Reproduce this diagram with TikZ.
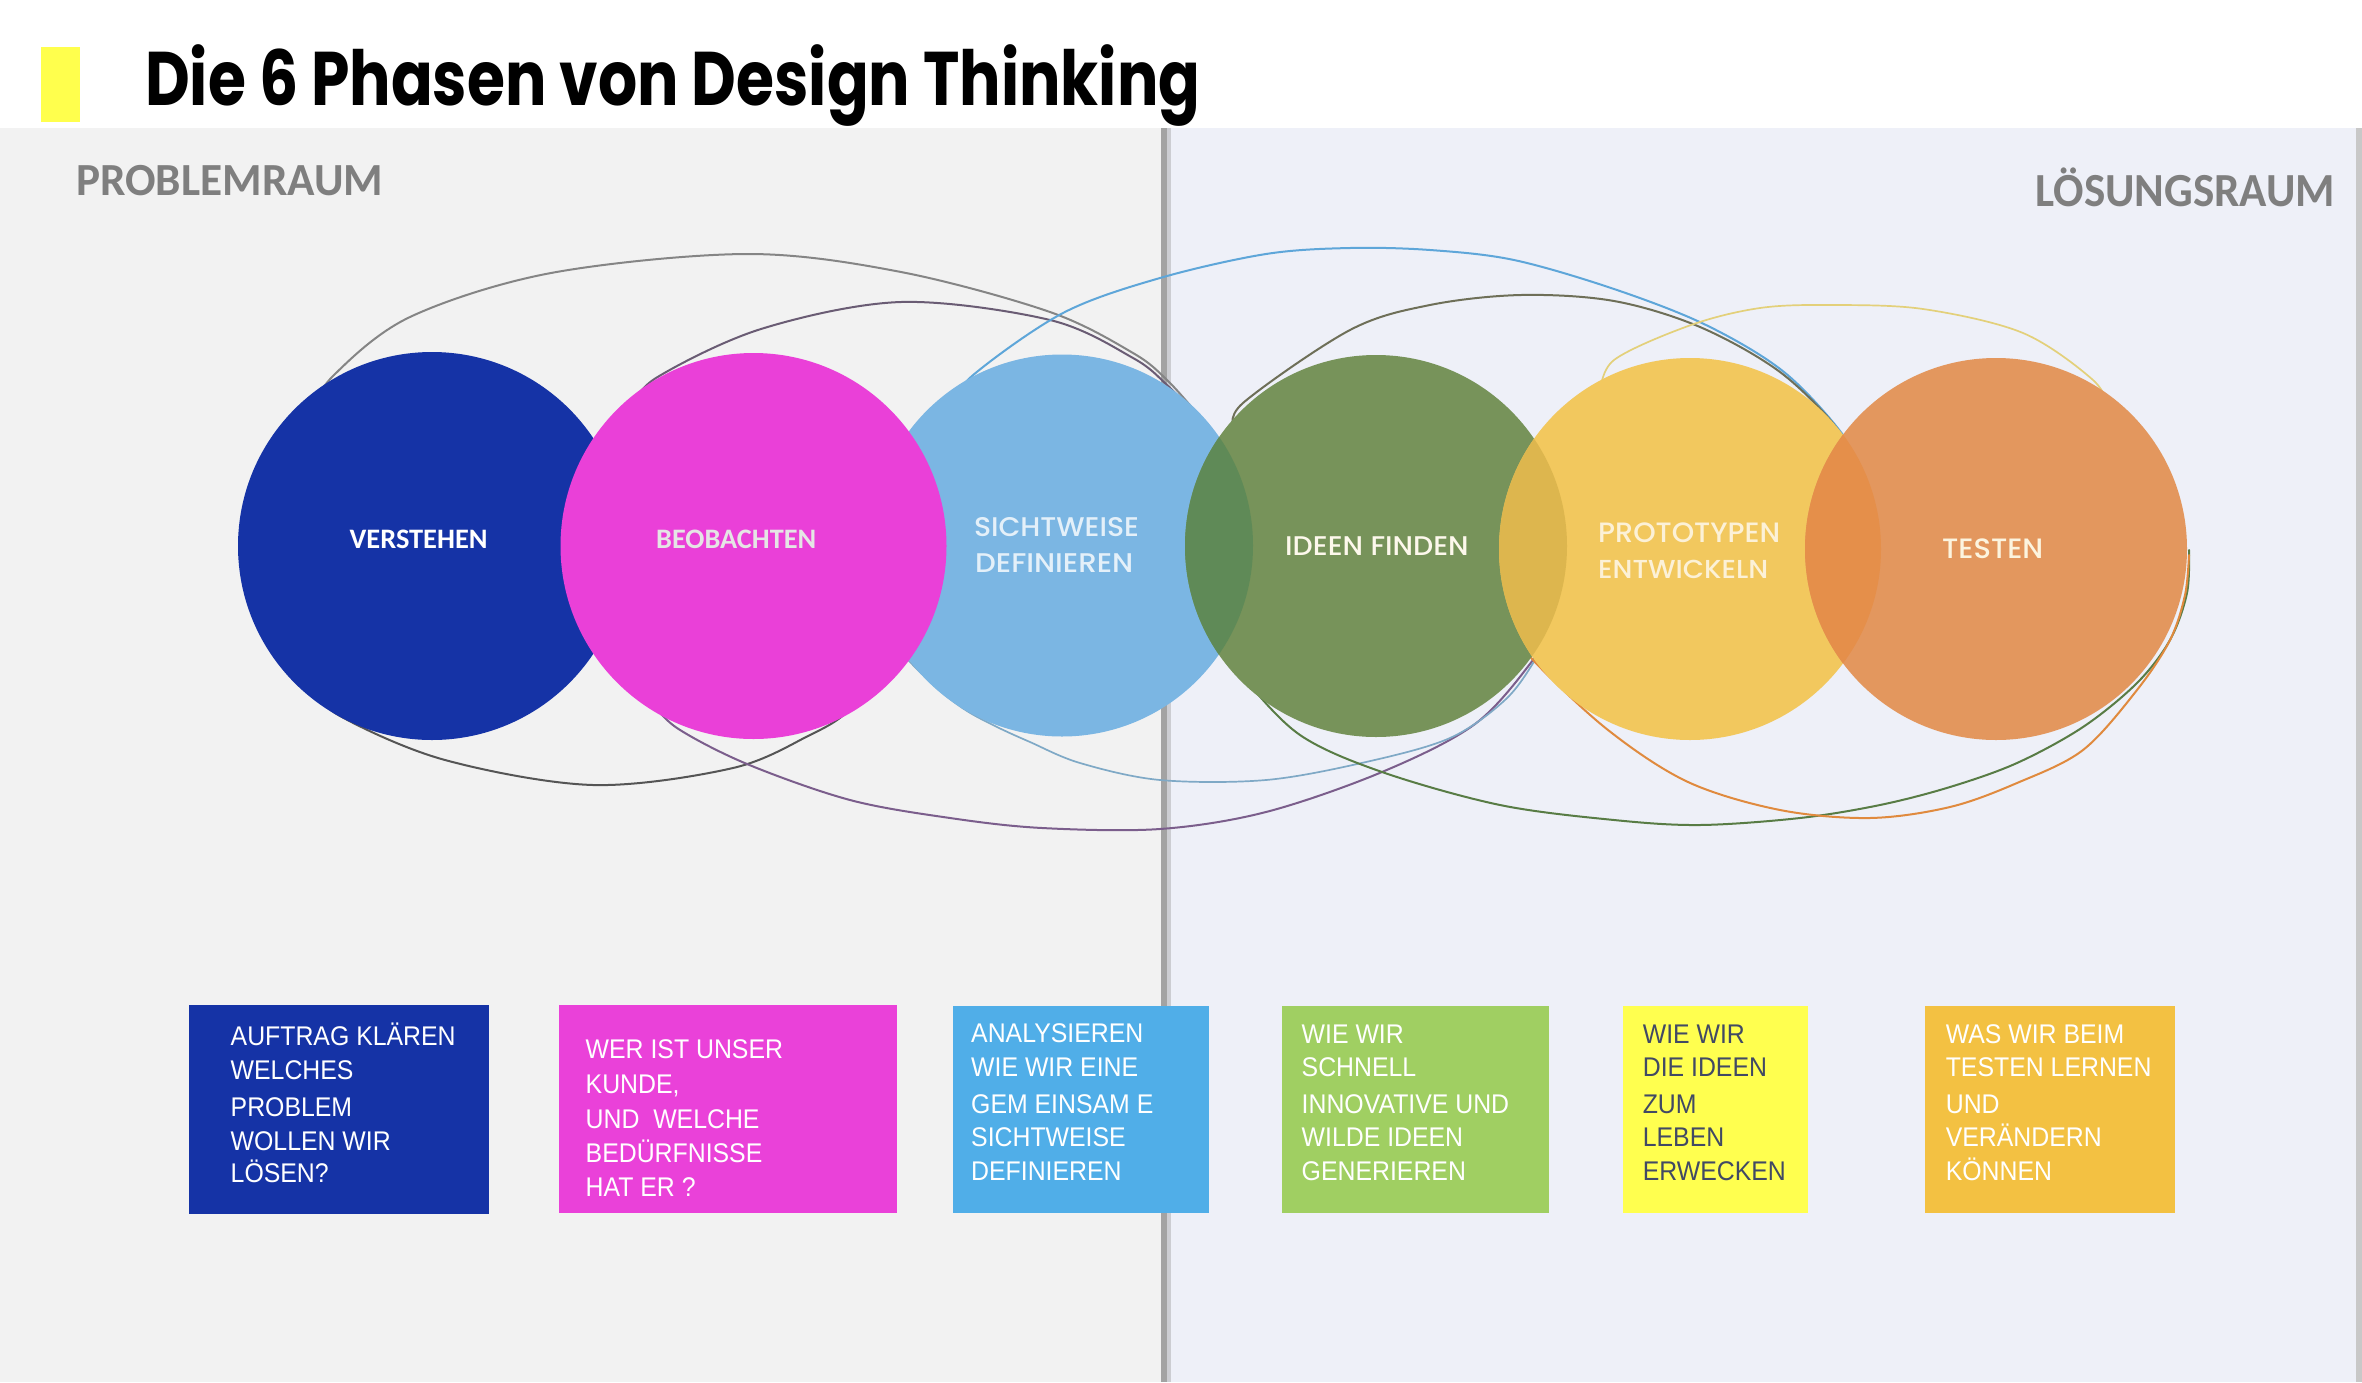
\documentclass[tikz,border=0pt]{standalone}
\usepackage{fontspec}
\usepackage{graphicx}
\setmainfont{Liberation Sans}
\newfontfamily\carlito{Carlito}
\newfontfamily\popfont{Poppins}
\newfontfamily\popmed{Poppins Medium}
\newcommand\fs[1]{\fontsize{#1}{#1}\selectfont}
\newcommand\fitw[2]{\resizebox{#1}{\height}{#2}}
\definecolor{panelL}{HTML}{F2F2F2}
\definecolor{panelR}{HTML}{EEF0F8}
\definecolor{divc}{HTML}{A3A3A3}
\definecolor{titlebar}{HTML}{FFFF4D}
\definecolor{cdb}{HTML}{1533A6}
\definecolor{cpk}{HTML}{EA40D8}
\definecolor{clb}{HTML}{7BB6E3}
\definecolor{cgr}{HTML}{77935A}
\definecolor{cye}{HTML}{F2C85E}
\definecolor{cor}{HTML}{E3975E}
\definecolor{lensgb}{HTML}{5F8A57}
\definecolor{lensgy}{HTML}{DDB64E}
\definecolor{lensyo}{HTML}{E58F4A}
\definecolor{bdb}{HTML}{1533A6}
\definecolor{bpk}{HTML}{EA41D9}
\definecolor{blb}{HTML}{50AEE8}
\definecolor{bgr}{HTML}{A0CF62}
\definecolor{bye}{HTML}{FFFF4F}
\definecolor{bor}{HTML}{F3C142}
\definecolor{ytext}{HTML}{414964}
\definecolor{lgA}{HTML}{858585}
\definecolor{lgB}{HTML}{555555}
\definecolor{ltwoT}{HTML}{6A5C74}
\definecolor{ltwoB}{HTML}{7B5E8C}
\definecolor{lthrT}{HTML}{5EA6D9}
\definecolor{lthrB}{HTML}{7FA9C6}
\definecolor{lfouT}{HTML}{6E6F58}
\definecolor{lfouB}{HTML}{587C45}
\definecolor{lfivT}{HTML}{E3D07A}
\definecolor{lfivB}{HTML}{E08A3E}
\definecolor{capgray}{HTML}{7F7F7F}
\newcommand\bl[4]{\node[lbl,text=#1] (#2) at #3 {\scalebox{0.92}[1]{\fs{27}#4}};}
\begin{document}
\begin{tikzpicture}[x=1pt,y=-1pt,
  lbl/.style={inner sep=0pt, anchor=base west},
  loopline/.style={line width=2pt, line cap=round},
  smoothplot/.style={smooth, tension=0.55}]
\useasboundingbox (0,0) rectangle (2362,1382);
\fill[white] (0,0) rectangle (2362,1382);
% panels
\fill[panelL] (0,128) rectangle (1164,1382);
\fill[panelR] (1164,128) rectangle (2357,1382);
\fill[divc] (1161,128) rectangle (1167,1382);
\fill[divc!45!panelR] (1167,128) rectangle (1171,1382);
\fill[divc!60!white] (2356,128) rectangle (2362,1382);
% yellow bar and title
\fill[fill=titlebar] (41,47) rectangle (80,122);
\node[lbl,text=black] (title) at (145,105) {\fitw{1055pt}{\fs{76}\popfont\bfseries Die 6 Phasen von Design Thinking}};
% space labels
\node[lbl,text=capgray] (problemraum) at (76,195) {\fitw{307pt}{\fs{46}\carlito\bfseries PROBLEMRAUM}};
\node[lbl,text=capgray] (loesungsraum) at (2035,206) {\fitw{300pt}{\fs{47.5}\carlito\bfseries LÖSUNGSRAUM}};
% loops (under circles)
\draw[loopline,lgA] plot[smoothplot] coordinates {(305,420) (333,376) (410,317) (551,273) (747,254) (901,272) (1050,312) (1133,353) (1167,380) (1200,417) (1220,442) (1228,475)};
\draw[loopline,lgB] plot[smoothplot] coordinates {(300,680) (340,716) (445,760) (593,785) (733,768) (810,735) (846,713) (872,680)};
\draw[loopline,ltwoT] plot[smoothplot] coordinates {(630,410) (656,378) (761,329) (901,302) (1050,320) (1133,358) (1167,385) (1200,420) (1220,442) (1228,475)};
\draw[loopline,ltwoB] plot[smoothplot] coordinates {(650,700) (677,728) (747,764) (850,800) (950,818) (1042,828) (1160,829) (1266,812) (1382,772) (1475,724) (1533,660) (1552,625)};
\draw[loopline,lthrT] plot[smoothplot] coordinates {(950,410) (972,376) (1063,313) (1160,278) (1266,254) (1350,248) (1430,250) (1514,260) (1614,289) (1706,325) (1784,372) (1843,435) (1855,470)};
\draw[loopline,lthrB,line width=1.7pt] plot[smoothplot] coordinates {(895,645) (910,662) (940,691) (967,711) (997,727) (1030,742) (1080,763) (1160,780) (1266,780) (1366,762) (1450,738) (1505,700) (1535,660) (1552,625)};
\draw[loopline,lfouT] plot[smoothplot] coordinates {(1235,430) (1243,403) (1350,330) (1430,305) (1521,295) (1614,301) (1700,327) (1780,372) (1838,430) (1850,470)};
\draw[loopline,lfouB] plot[smoothplot] coordinates {(1225,650) (1243,677) (1300,735) (1382,772) (1500,805) (1614,820) (1700,825) (1800,818) (1880,805) (1950,787) (2017,763) (2083,727) (2137,683) (2170,640) (2187,593) (2189,550)};
\draw[loopline,lfivT,line width=1.7pt] plot[smoothplot] coordinates {(1600,395) (1614,360) (1691,325) (1760,308) (1830,305) (1923,309) (2023,333) (2093,380) (2110,410)};
\draw[loopline,lfivB] plot[smoothplot] coordinates {(1510,625) (1533,660) (1608,730) (1688,782) (1780,810) (1870,818) (1950,807) (2017,783) (2083,750) (2137,690) (2170,640) (2185,595) (2189,555)};
% circles
\fill[cdb] (432,546) circle[radius=194pt];
\fill[clb] (1062,545.5) circle[radius=191pt];
\fill[cpk] (753.5,546) circle[radius=193pt];
\fill[cgr] (1376,546) circle[radius=191pt];
\fill[cye] (1690,549) circle[radius=191pt];
\fill[cor] (1996,549) circle[radius=191pt];
\begin{scope}
  \clip (1062,545.5) circle[radius=191pt];
  \fill[lensgb] (1376,546) circle[radius=191pt];
\end{scope}
\begin{scope}
  \clip (1376,546) circle[radius=191pt];
  \fill[lensgy] (1690,549) circle[radius=191pt];
\end{scope}
\begin{scope}
  \clip (1690,549) circle[radius=191pt];
  \fill[lensyo] (1996,549) circle[radius=191pt];
\end{scope}
% circle labels
\node[lbl,text=white] (verstehen) at (349.4,548.3) {\fitw{138pt}{\fs{28.2}\carlito\bfseries VERSTEHEN}};
\node[lbl,text=white!90!black] (beobachten) at (656,548.3) {\fitw{160pt}{\fs{28.2}\carlito\bfseries BEOBACHTEN}};
\node[lbl,text=white!80!clb] (sichtweise) at (973.8,536.4) {\fitw{165pt}{\fs{27}\popmed SICHTWEISE}};
\node[lbl,text=white!80!clb] (definieren) at (975,572.4) {\fitw{158pt}{\fs{27}\popmed DEFINIEREN}};
\node[lbl,text=white!88!cye] (ideenfinden) at (1285,555) {\fitw{183.5pt}{\fs{27}\popmed IDEEN FINDEN}};
\node[lbl,text=white!75!cye] (prototypen) at (1598,542.4) {\fitw{182pt}{\fs{28}\popmed PROTOTYPEN}};
\node[lbl,text=white!75!cye] (entwickeln) at (1598,578) {\fitw{170pt}{\fs{26}\popmed ENTWICKELN}};
\node[lbl,text=white!80!cye] (testen) at (1942,558) {\fitw{101pt}{\fs{28}\popmed TESTEN}};
% boxes
\fill[bdb] (189,1005) rectangle (489,1214);
\fill[bpk] (559,1005) rectangle (897,1213);
\fill[blb] (953,1006) rectangle (1209,1213);
\fill[bgr] (1282,1006) rectangle (1549,1213);
\fill[bye] (1623,1006) rectangle (1808,1213);
\fill[bor] (1925,1006) rectangle (2175,1213);
% box texts
\bl{white}{ba1}{(230.5,1045.7)}{AUFTRAG KLÄREN}
\bl{white}{ba2}{(230.5,1079)}{WELCHES}
\bl{white}{ba3}{(230.5,1116)}{PROBLEM}
\bl{white}{ba4}{(230.5,1150)}{WOLLEN WIR}
\bl{white}{ba5}{(230.5,1182.7)}{LÖSEN?}
\bl{white}{bb1}{(585.5,1058)}{WER IST UNSER}
\bl{white}{bb2}{(585.5,1093)}{KUNDE,}
\bl{white}{bb3}{(585.5,1128)}{UND\ \ WELCHE}
\bl{white}{bb4}{(585.5,1162.7)}{BEDÜRFNISSE}
\bl{white}{bb5}{(585.5,1196)}{HAT ER ?}
\bl{white}{bc1}{(971,1042.7)}{ANALYSIEREN}
\bl{white}{bc2}{(971,1076.7)}{WIE WIR EINE}
\bl{white}{bc3}{(971,1113)}{GEM EINSAM E}
\bl{white}{bc4}{(971,1146.7)}{SICHTWEISE}
\bl{white}{bc5}{(971,1180)}{DEFINIEREN}
\bl{white}{bd1}{(1301.5,1043)}{WIE WIR}
\bl{white}{bd2}{(1301.5,1076.7)}{SCHNELL}
\bl{white}{bd3}{(1301.5,1113)}{INNOVATIVE UND}
\bl{white}{bd4}{(1301.5,1146.7)}{WILDE IDEEN}
\bl{white}{bd5}{(1301.5,1180)}{GENERIEREN}
\bl{ytext}{be1}{(1642.6,1043)}{WIE WIR}
\bl{ytext}{be2}{(1642.6,1076.7)}{DIE IDEEN}
\bl{ytext}{be3}{(1642.6,1113)}{ZUM}
\bl{ytext}{be4}{(1642.6,1146.7)}{LEBEN}
\bl{ytext}{be5}{(1642.6,1180)}{ERWECKEN}
\bl{white}{bf1}{(1945.6,1043)}{WAS WIR BEIM}
\bl{white}{bf2}{(1945.6,1076.7)}{TESTEN LERNEN}
\bl{white}{bf3}{(1945.6,1113)}{UND}
\bl{white}{bf4}{(1945.6,1146.7)}{VERÄNDERN}
\bl{white}{bf5}{(1945.6,1180)}{KÖNNEN}
\end{tikzpicture}
\end{document}
